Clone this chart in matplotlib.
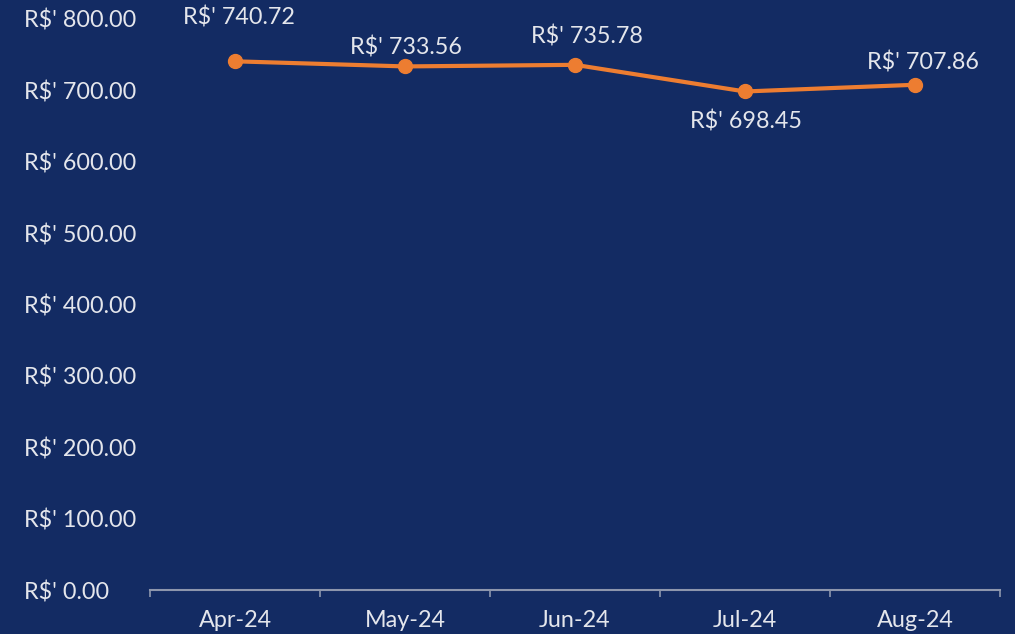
import numpy as np
import matplotlib.pyplot as plt
from matplotlib.ticker import FuncFormatter, FixedLocator

# monthly values
months = ["Apr-24", "May-24", "Jun-24", "Jul-24", "Aug-24"]
values = [740.72, 733.56, 735.78, 698.45, 707.86]
# label offsets in pixels (dx, dy) so labels sit like the original
label_off = [(4, 44), (1, 19), (12, 28), (1, -30), (8, 22)]

bg = "#132b63"
orange = "#ed7d31"
txt = "#e4e6ec"
fs = 16.8

plt.rcParams['font.family'] = ['Lato', 'DejaVu Sans']

fig = plt.figure(figsize=(10.15, 6.34), dpi=100, facecolor=bg)
ax = fig.add_axes([150/1015, 44/634, 850/1015, 571/634])
ax.set_facecolor(bg)

x = np.arange(len(months))
ax.plot(x, values, color=orange, lw=3, marker='o', ms=10, zorder=3)

for xi, v, (dx, dy) in zip(x, values, label_off):
    ax.annotate("R$' %.2f" % v, (xi, v), xytext=(dx, dy), textcoords='offset pixels',
                ha='center', va='center', color=txt, fontsize=fs)

ax.set_xlim(-0.5, len(months) - 0.5)
ax.set_ylim(0, 800)
ax.set_yticks(np.arange(0, 801, 100))
ax.yaxis.set_major_formatter(FuncFormatter(lambda v, p: "R$' %.2f" % v))
ax.set_xticks(x)
ax.set_xticklabels(months)
ax.xaxis.set_minor_locator(FixedLocator(np.arange(-0.5, len(months), 1.0)))

ax.tick_params(axis='y', length=0, pad=90.7, labelcolor=txt, labelsize=fs)
ax.tick_params(axis='x', which='major', length=0, pad=14.5, labelcolor=txt, labelsize=fs)
ax.tick_params(axis='x', which='minor', length=5, width=1.2, color="#8d96ad", direction='out')

for s in ['top', 'right', 'left']:
    ax.spines[s].set_visible(False)
ax.spines['bottom'].set_color("#8d96ad")
ax.spines['bottom'].set_linewidth(1.5)

for lab in ax.get_yticklabels():
    lab.set_horizontalalignment('left')

fig.savefig("out.png", dpi=100, facecolor=bg)
